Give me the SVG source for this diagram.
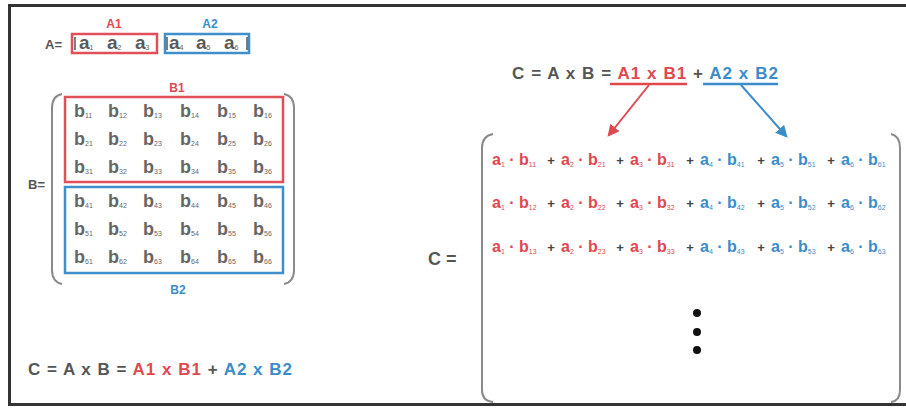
<svg xmlns="http://www.w3.org/2000/svg" width="906" height="409" viewBox="0 0 906 409">
<style>
text{font-family:"Liberation Sans",Arial,sans-serif}
.g{fill:#555}
.r{fill:#e0474f}
.bl{fill:#3a8ccb}
.lbl{font-size:12px;font-weight:bold;text-anchor:middle}
.av{font-size:19px;font-weight:bold;fill:#5a5a5a}
.bv{font-size:18px;font-weight:bold;fill:#666}
.s{font-size:7px;font-weight:normal}
.ct{font-size:16px;font-weight:bold}
.pl{font-size:13px;font-weight:bold;fill:#444;text-anchor:middle}
.f{font-size:17px;font-weight:bold}
.rb{fill:none;stroke:#e0505a;stroke-width:2.5}
.bb{fill:none;stroke:#3f8fcb;stroke-width:2.5}
.par{fill:none;stroke:#8a8a8a;stroke-width:2}
</style>
<defs>
<marker id="ar" viewBox="0 0 10 10" refX="8" refY="5" markerWidth="6" markerHeight="6" orient="auto"><path d="M0,0 L10,5 L0,10 z" fill="#e0474f"/></marker>
<marker id="ab" viewBox="0 0 10 10" refX="8" refY="5" markerWidth="6" markerHeight="6" orient="auto"><path d="M0,0 L10,5 L0,10 z" fill="#3a8ccb"/></marker>
</defs>
<rect x="0" y="0" width="906" height="409" fill="#fff"/>
<g id="frame"><path d="M906,5.5 H9.5 V404.5 H906" fill="none" stroke="#333" stroke-width="3"/></g>

<g id="matrixA">
<text x="45" y="49" font-size="13" font-weight="bold" class="g">A=</text>
<text x="114" y="28" class="lbl r">A1</text>
<text x="210" y="28" class="lbl bl">A2</text>
<rect x="72" y="34" width="85" height="19" class="rb" stroke-width="2"/>
<rect x="165" y="34" width="84" height="19" class="bb" stroke-width="2"/>
<path d="M75,37 V50 M167,37 V50 M247,37 V50" stroke="#555" stroke-width="1.5"/>
<text x="79" y="49" class="av">a<tspan class="s" dy="1">1</tspan></text>
<text x="107" y="49" class="av">a<tspan class="s" dy="1">2</tspan></text>
<text x="135" y="49" class="av">a<tspan class="s" dy="1">3</tspan></text>
<text x="169" y="49" class="av">a<tspan class="s" dy="1">4</tspan></text>
<text x="196" y="49" class="av">a<tspan class="s" dy="1">5</tspan></text>
<text x="224" y="49" class="av">a<tspan class="s" dy="1">6</tspan></text>
</g>

<g id="matrixB">
<text x="28" y="189" font-size="13" font-weight="bold" class="g">B=</text>
<text x="177" y="92" class="lbl r">B1</text>
<text x="178" y="294" class="lbl bl">B2</text>
<path d="M62,94 Q52,96 52,108 V270 Q52,282 62,284" class="par"/>
<path d="M284,94 Q294,96 294,108 V270 Q294,282 284,284" class="par"/>
<rect x="65" y="97" width="218" height="85" class="rb"/>
<rect x="65" y="187" width="218" height="86" class="bb"/>
<g class="bv">
<text x="74" y="117">b<tspan class="s" dy="1">11</tspan></text><text x="108" y="117">b<tspan class="s" dy="1">12</tspan></text><text x="143" y="117">b<tspan class="s" dy="1">13</tspan></text><text x="180" y="117">b<tspan class="s" dy="1">14</tspan></text><text x="217" y="117">b<tspan class="s" dy="1">15</tspan></text><text x="253" y="117">b<tspan class="s" dy="1">16</tspan></text>
<text x="74" y="145">b<tspan class="s" dy="1">21</tspan></text><text x="108" y="145">b<tspan class="s" dy="1">22</tspan></text><text x="143" y="145">b<tspan class="s" dy="1">23</tspan></text><text x="180" y="145">b<tspan class="s" dy="1">24</tspan></text><text x="217" y="145">b<tspan class="s" dy="1">25</tspan></text><text x="253" y="145">b<tspan class="s" dy="1">26</tspan></text>
<text x="74" y="173">b<tspan class="s" dy="1">31</tspan></text><text x="108" y="173">b<tspan class="s" dy="1">32</tspan></text><text x="143" y="173">b<tspan class="s" dy="1">33</tspan></text><text x="180" y="173">b<tspan class="s" dy="1">34</tspan></text><text x="217" y="173">b<tspan class="s" dy="1">35</tspan></text><text x="253" y="173">b<tspan class="s" dy="1">36</tspan></text>
<text x="74" y="207">b<tspan class="s" dy="1">41</tspan></text><text x="108" y="207">b<tspan class="s" dy="1">42</tspan></text><text x="143" y="207">b<tspan class="s" dy="1">43</tspan></text><text x="180" y="207">b<tspan class="s" dy="1">44</tspan></text><text x="217" y="207">b<tspan class="s" dy="1">45</tspan></text><text x="253" y="207">b<tspan class="s" dy="1">46</tspan></text>
<text x="74" y="235">b<tspan class="s" dy="1">51</tspan></text><text x="108" y="235">b<tspan class="s" dy="1">52</tspan></text><text x="143" y="235">b<tspan class="s" dy="1">53</tspan></text><text x="180" y="235">b<tspan class="s" dy="1">54</tspan></text><text x="217" y="235">b<tspan class="s" dy="1">55</tspan></text><text x="253" y="235">b<tspan class="s" dy="1">56</tspan></text>
<text x="74" y="263">b<tspan class="s" dy="1">61</tspan></text><text x="108" y="263">b<tspan class="s" dy="1">62</tspan></text><text x="143" y="263">b<tspan class="s" dy="1">63</tspan></text><text x="180" y="263">b<tspan class="s" dy="1">64</tspan></text><text x="217" y="263">b<tspan class="s" dy="1">65</tspan></text><text x="253" y="263">b<tspan class="s" dy="1">66</tspan></text>
</g>
</g>

<g id="formulaBottom">
<text x="28" y="375" class="f" textLength="264" lengthAdjust="spacing"><tspan class="g">C = A x B = </tspan><tspan class="r">A1 x B1</tspan><tspan class="g"> + </tspan><tspan class="bl">A2 x B2</tspan></text>
</g>

<g id="formulaTop">
<text x="512" y="79" class="f" textLength="266" lengthAdjust="spacing"><tspan class="g">C = A x B = </tspan><tspan class="r">A1 x B1</tspan><tspan class="g"> + </tspan><tspan class="bl">A2 x B2</tspan></text>
<path d="M610,84 H687" stroke="#e0474f" stroke-width="2.5"/>
<path d="M703,84 H778" stroke="#3a8ccb" stroke-width="2.5"/>
</g>

<g id="connectors">
<path d="M649,85 L609,135" stroke="#e0474f" stroke-width="2" fill="none" marker-end="url(#ar)"/>
<path d="M741,85 L786,136" stroke="#3a8ccb" stroke-width="2" fill="none" marker-end="url(#ab)"/>
</g>

<g id="matrixC">
<text x="428" y="265" font-size="18" font-weight="bold" class="g">C =</text>
<path d="M493,134 Q482,136 482,148 V390 Q482,401 493,402" class="par"/>
<path d="M891,134 Q900,136 900,148 V390 Q900,401 891,402" class="par"/>
<g class="ct">
<text x="492" y="165" class="r">a<tspan class="s" dy="2">1</tspan><tspan dy="-2"> · b</tspan><tspan class="s" dy="2">11</tspan></text>
<text x="561" y="165" class="r">a<tspan class="s" dy="2">2</tspan><tspan dy="-2"> · b</tspan><tspan class="s" dy="2">21</tspan></text>
<text x="630" y="165" class="r">a<tspan class="s" dy="2">3</tspan><tspan dy="-2"> · b</tspan><tspan class="s" dy="2">31</tspan></text>
<text x="700" y="165" class="bl">a<tspan class="s" dy="2">4</tspan><tspan dy="-2"> · b</tspan><tspan class="s" dy="2">41</tspan></text>
<text x="771" y="165" class="bl">a<tspan class="s" dy="2">5</tspan><tspan dy="-2"> · b</tspan><tspan class="s" dy="2">51</tspan></text>
<text x="841" y="165" class="bl">a<tspan class="s" dy="2">6</tspan><tspan dy="-2"> · b</tspan><tspan class="s" dy="2">61</tspan></text>
<text x="492" y="208" class="r">a<tspan class="s" dy="2">1</tspan><tspan dy="-2"> · b</tspan><tspan class="s" dy="2">12</tspan></text>
<text x="561" y="208" class="r">a<tspan class="s" dy="2">2</tspan><tspan dy="-2"> · b</tspan><tspan class="s" dy="2">22</tspan></text>
<text x="630" y="208" class="r">a<tspan class="s" dy="2">3</tspan><tspan dy="-2"> · b</tspan><tspan class="s" dy="2">32</tspan></text>
<text x="700" y="208" class="bl">a<tspan class="s" dy="2">4</tspan><tspan dy="-2"> · b</tspan><tspan class="s" dy="2">42</tspan></text>
<text x="771" y="208" class="bl">a<tspan class="s" dy="2">5</tspan><tspan dy="-2"> · b</tspan><tspan class="s" dy="2">52</tspan></text>
<text x="841" y="208" class="bl">a<tspan class="s" dy="2">6</tspan><tspan dy="-2"> · b</tspan><tspan class="s" dy="2">62</tspan></text>
<text x="492" y="252" class="r">a<tspan class="s" dy="2">1</tspan><tspan dy="-2"> · b</tspan><tspan class="s" dy="2">13</tspan></text>
<text x="561" y="252" class="r">a<tspan class="s" dy="2">2</tspan><tspan dy="-2"> · b</tspan><tspan class="s" dy="2">23</tspan></text>
<text x="630" y="252" class="r">a<tspan class="s" dy="2">3</tspan><tspan dy="-2"> · b</tspan><tspan class="s" dy="2">33</tspan></text>
<text x="700" y="252" class="bl">a<tspan class="s" dy="2">4</tspan><tspan dy="-2"> · b</tspan><tspan class="s" dy="2">43</tspan></text>
<text x="771" y="252" class="bl">a<tspan class="s" dy="2">5</tspan><tspan dy="-2"> · b</tspan><tspan class="s" dy="2">53</tspan></text>
<text x="841" y="252" class="bl">a<tspan class="s" dy="2">6</tspan><tspan dy="-2"> · b</tspan><tspan class="s" dy="2">63</tspan></text>
</g>
<g class="pl">
<text x="551" y="165">+</text><text x="620" y="165">+</text><text x="690" y="165">+</text><text x="761" y="165">+</text><text x="831" y="165">+</text>
<text x="551" y="208">+</text><text x="620" y="208">+</text><text x="690" y="208">+</text><text x="761" y="208">+</text><text x="831" y="208">+</text>
<text x="551" y="252">+</text><text x="620" y="252">+</text><text x="690" y="252">+</text><text x="761" y="252">+</text><text x="831" y="252">+</text>
</g>
<g fill="#111"><circle cx="697" cy="313" r="4"/><circle cx="697" cy="332" r="4"/><circle cx="697" cy="350" r="4"/></g>
</g>
</svg>
